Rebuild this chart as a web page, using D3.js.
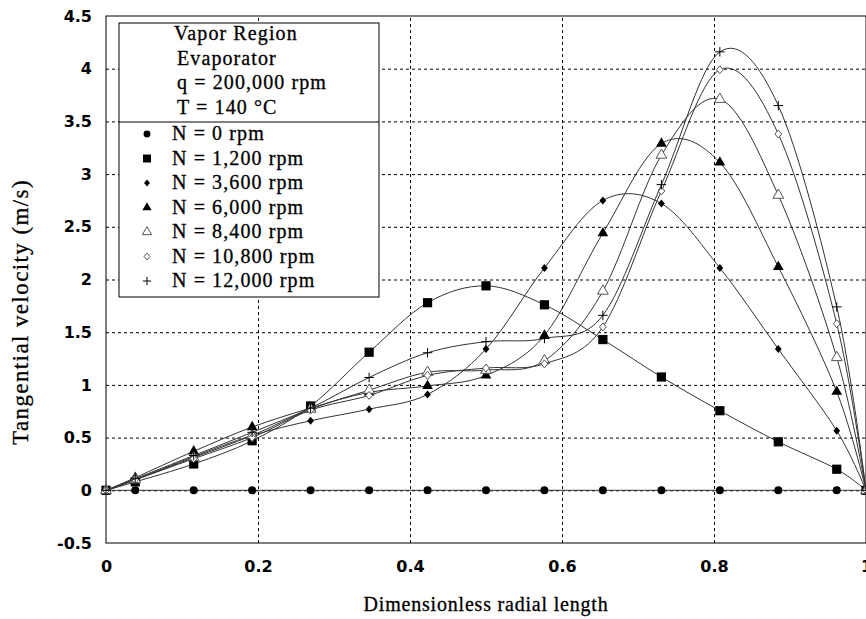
<!DOCTYPE html>
<meta charset="utf-8">
<style>
body { margin: 0; background: #fff; }
.serif { font-family: "Liberation Serif", "Times New Roman", serif; fill: #000; stroke: #000; stroke-width: 0.3; }
.tick text { font-family: "DejaVu Sans", sans-serif; font-weight: bold; font-size: 16px; fill: #000; }
</style>
<div id="chart"></div>
<script src="https://d3js.org/d3.v7.min.js"></script>
<script>

// radial positions (13 cells + walls)
var xs = [0, 0.0385, 0.1154, 0.1923, 0.2692, 0.3462, 0.4231, 0.5, 0.5769, 0.6538, 0.7308, 0.8077, 0.8846, 0.9615, 1];

var n0     = [0, 0, 0, 0, 0, 0, 0, 0, 0, 0, 0, 0, 0, 0, 0];
var n1200  = [0, 0.08, 0.25, 0.47, 0.80, 1.31, 1.78, 1.94, 1.76, 1.43, 1.075, 0.755, 0.46, 0.20, 0];
var n3600  = [0, 0.10, 0.32, 0.52, 0.66, 0.77, 0.91, 1.34, 2.11, 2.75, 2.72, 2.11, 1.34, 0.565, 0];
var n6000  = [0, 0.12, 0.37, 0.60, 0.78, 0.93, 0.99, 1.09, 1.47, 2.44, 3.29, 3.11, 2.12, 0.935, 0];
var n8400  = [0, 0.10, 0.31, 0.52, 0.77, 0.95, 1.12, 1.14, 1.23, 1.89, 3.18, 3.71, 2.80, 1.26, 0];
var n10800 = [0, 0.10, 0.30, 0.50, 0.76, 0.90, 1.09, 1.16, 1.20, 1.55, 2.84, 3.99, 3.38, 1.58, 0];
var n12000 = [0, 0.11, 0.33, 0.55, 0.78, 1.07, 1.305, 1.41, 1.44, 1.66, 2.90, 4.16, 3.65, 1.74, 0];

var seriesNames = ["N = 0 rpm", "N = 1,200 rpm", "N = 3,600 rpm", "N = 6,000 rpm",
                   "N = 8,400 rpm", "N = 10,800 rpm", "N = 12,000 rpm"];
var seriesValues = [n0, n1200, n3600, n6000, n8400, n10800, n12000];

var headerLines = ["Vapor Region", "Evaporator", "q = 200,000 rpm", "T = 140 \u00B0C"];

var xTicks = [0, 0.2, 0.4, 0.6, 0.8, 1];
var yTicks = [-0.5, 0, 0.5, 1, 1.5, 2, 2.5, 3, 3.5, 4, 4.5];

// marker shapes
var diamond = { draw: function(c, s) { var r = Math.sqrt(s) / 2;
  c.moveTo(0, -r); c.lineTo(r * 0.85, 0); c.lineTo(0, r); c.lineTo(-r * 0.85, 0); c.closePath(); } };
var plus = { draw: function(c, s) { var r = Math.sqrt(s) / 2;
  c.moveTo(-r, 0); c.lineTo(r, 0); c.moveTo(0, -r); c.lineTo(0, r); } };

var styles = [
  {type: d3.symbolCircle,   size: 50, fill: "#000", stroke: "none"},
  {type: d3.symbolSquare,   size: 85, fill: "#000", stroke: "none"},
  {type: diamond,           size: 64, fill: "#000", stroke: "none"},
  {type: d3.symbolTriangle, size: 50, fill: "#000", stroke: "none"},
  {type: d3.symbolTriangle, size: 50, fill: "#fff", stroke: "#555"},
  {type: diamond,           size: 64, fill: "#fff", stroke: "#555"},
  {type: plus,              size: 90, fill: "none", stroke: "#000"}
];

var svg = d3.select("#chart").append("svg")
    .attr("width", 866)
    .attr("height", 619);

var x = d3.scaleLinear().domain([0, 1]).range([106, 866]);
var y = d3.scaleLinear().domain([-0.5, 4.5]).range([543, 16]);

// grid
svg.append("g")
    .attr("transform", "translate(0,543)")
    .call(d3.axisBottom(x).tickValues(xTicks.slice(1, -1)).tickSize(-527).tickFormat(""))
    .call(function(g) { g.select(".domain").remove(); })
    .selectAll("line").attr("stroke", "#000").attr("stroke-dasharray", "3,3");

svg.append("g")
    .attr("transform", "translate(106,0)")
    .call(d3.axisLeft(y).tickValues(yTicks.slice(1, -1)).tickSize(-760).tickFormat(""))
    .call(function(g) { g.select(".domain").remove(); })
    .selectAll("line").attr("stroke", "#000").attr("stroke-dasharray", "3,3");

// frame
svg.append("rect")
    .attr("x", x(0)).attr("y", y(4.5))
    .attr("width", x(1) - x(0)).attr("height", y(-0.5) - y(4.5))
    .attr("fill", "none").attr("stroke", "#000");

// tick labels
svg.append("g")
    .attr("transform", "translate(0,543)")
    .call(d3.axisBottom(x).tickValues(xTicks).tickSize(0).tickPadding(18).tickFormat(function(d) { return String(d); }))
    .call(function(g) { g.select(".domain").remove(); });

svg.append("g")
    .attr("transform", "translate(106,0)")
    .call(d3.axisLeft(y).tickValues(yTicks).tickSize(0).tickPadding(14).tickFormat(function(d) { return String(d); }))
    .call(function(g) { g.select(".domain").remove(); });

// curves
var line = d3.line()
    .x(function(d, i) { return x(xs[i]); })
    .y(function(d) { return y(d); })
    .curve(d3.curveCardinal.tension(0));

seriesValues.forEach(function(vals, k) {
  var st = styles[k];
  var g = svg.append("g");
  g.append("path")
      .attr("d", line(vals))
      .attr("fill", "none")
      .attr("stroke", "#333")
      .attr("stroke-width", 1);
  g.selectAll("path.m")
    .data(vals)
    .enter().append("path")
      .attr("class", "m")
      .attr("transform", function(d, i) { return "translate(" + x(xs[i]) + "," + y(d) + ")"; })
      .attr("d", d3.symbol().type(st.type).size(st.size))
      .attr("fill", st.fill)
      .attr("stroke", st.stroke);
});

// legend box
var lg = svg.append("g");
lg.append("rect")
    .attr("x", 119).attr("y", 23)
    .attr("width", 260).attr("height", 274)
    .attr("fill", "#fff").attr("stroke", "#000");
lg.append("line")
    .attr("x1", 119).attr("x2", 379).attr("y1", 122).attr("y2", 122)
    .attr("stroke", "#000");

lg.selectAll("text.h")
  .data(headerLines)
  .enter().append("text")
    .attr("class", "h serif")
    .attr("x", function(d, i) { return i == 0 ? 174 : 177; })
    .attr("y", function(d, i) { return 40 + i * 24.5; })
    .attr("font-size", 20)
    .attr("letter-spacing", 1.1)
    .text(function(d) { return d; });

var item = lg.selectAll("g.item")
  .data(seriesNames)
  .enter().append("g")
    .attr("class", "item")
    .attr("transform", function(d, i) { return "translate(0," + (140 + i * 24.5) + ")"; });

item.append("path")
    .attr("transform", "translate(147,-6)")
    .attr("d", function(d, i) { return d3.symbol().type(styles[i].type).size(styles[i].size * 0.75)(); })
    .attr("fill", function(d, i) { return styles[i].fill; })
    .attr("stroke", function(d, i) { return styles[i].stroke; });

item.append("text")
    .attr("class", "serif")
    .attr("x", 172)
    .attr("font-size", 20)
    .attr("letter-spacing", 1.1)
    .text(function(d) { return d; });

// axis titles
svg.append("text")
    .attr("class", "serif")
    .attr("x", 486).attr("y", 611)
    .attr("text-anchor", "middle")
    .attr("font-size", 20)
    .attr("letter-spacing", 0.8)
    .text("Dimensionless radial length");

svg.append("text")
    .attr("class", "serif")
    .attr("transform", "translate(28,312) rotate(-90)")
    .attr("text-anchor", "middle")
    .attr("font-size", 23)
    .attr("letter-spacing", 1.4)
    .text("Tangential velocity (m/s)");

</script>
